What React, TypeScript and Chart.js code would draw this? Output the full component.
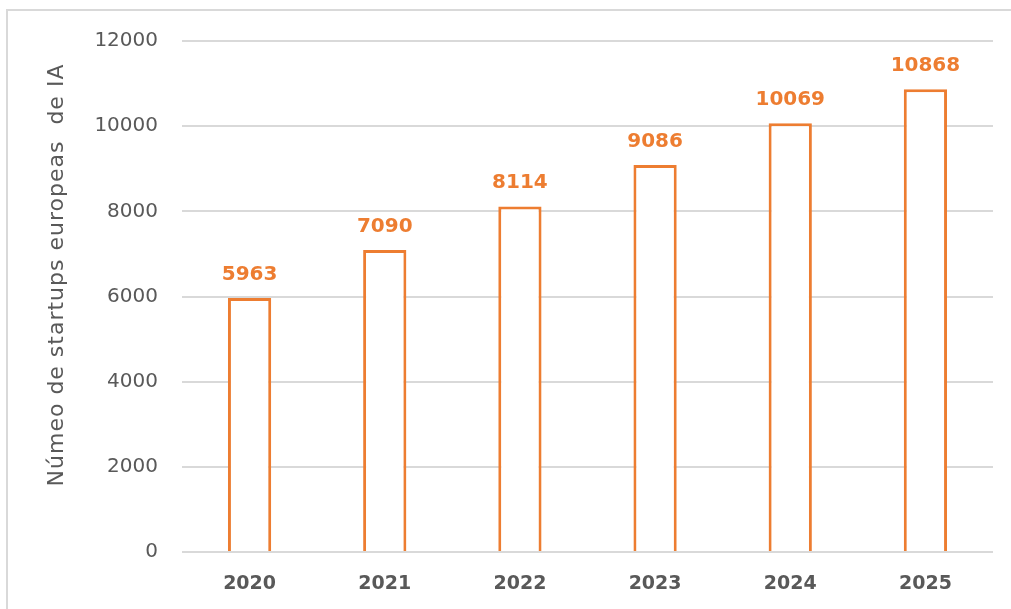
import React, { useEffect, useRef } from "react";
import { Chart, registerables } from "chart.js";

Chart.register(...registerables);

const categories = ["2020", "2021", "2022", "2023", "2024", "2025"];
const startups = [5963, 7090, 8114, 9086, 10069, 10868];
const yTicks = [0, 2000, 4000, 6000, 8000, 10000, 12000];
const yTitle = "Númeo de startups europeas  de IA";

const ORANGE = "#ED7D31";
const GREY_TEXT = "#595959";
const GRID = "#d9d9d9";

const framePlugin = {
  id: "frame",
  beforeDraw(chart: any) {
    const ctx = chart.ctx;
    ctx.save();
    ctx.fillStyle = "#ffffff";
    ctx.fillRect(0, 0, chart.width, chart.height);
    ctx.strokeStyle = GRID;
    ctx.lineWidth = 2;
    ctx.strokeRect(7, 10, chart.width + 50, chart.height + 50);
    ctx.restore();
  },
};

const labelPlugin = {
  id: "valueLabels",
  afterDatasetsDraw(chart: any) {
    const ctx = chart.ctx;
    const meta = chart.getDatasetMeta(0);
    ctx.save();
    ctx.fillStyle = ORANGE;
    ctx.font = "bold 20px 'DejaVu Sans'";
    ctx.textAlign = "center";
    ctx.textBaseline = "alphabetic";
    meta.data.forEach((bar: any, i: number) => {
      ctx.fillText(String(startups[i]), bar.x, bar.y - 18);
    });
    ctx.restore();
  },
};

const titlePlugin = {
  id: "yTitle",
  afterDraw(chart: any) {
    const ctx = chart.ctx;
    ctx.save();
    ctx.fillStyle = GREY_TEXT;
    ctx.font = "22px 'DejaVu Sans'";
    (ctx as any).letterSpacing = "1px";
    ctx.textAlign = "center";
    ctx.textBaseline = "middle";
    ctx.translate(57, 275);
    ctx.rotate(-Math.PI / 2);
    ctx.fillText(yTitle, 0, 0);
    ctx.restore();
  },
};

export default function App() {
  const ref = useRef<HTMLCanvasElement | null>(null);

  useEffect(() => {
    if (!ref.current) return;
    const chart = new Chart(ref.current, {
      type: "bar",
      data: {
        labels: categories,
        datasets: [
          {
            data: startups,
            backgroundColor: "#ffffff",
            borderColor: ORANGE,
            borderWidth: 3,
            categoryPercentage: 1,
            barPercentage: 0.32,
          },
        ],
      },
      options: {
        responsive: false,
        animation: false,
        layout: { padding: { top: 41, right: 18, left: 0, bottom: 0 } },
        plugins: {
          legend: { display: false },
          tooltip: { enabled: false },
        },
        scales: {
          x: {
            grid: { display: false, drawTicks: false },
            border: { display: false },
            ticks: {
              color: GREY_TEXT,
              font: { family: "'DejaVu Sans'", weight: "bold", size: 19 },
              padding: 21,
            },
            afterFit(scale: any) {
              scale.height = 57;
            },
          },
          y: {
            min: 0,
            max: 12000,
            afterBuildTicks(scale: any) {
              scale.ticks = yTicks.map((v) => ({ value: v }));
            },
            grid: { color: GRID, lineWidth: 2, drawTicks: false },
            border: { display: false },
            ticks: {
              color: GREY_TEXT,
              font: { family: "'DejaVu Sans'", size: 20 },
              padding: 24,
              callback: (v: any) => String(v),
            },
            afterFit(scale: any) {
              scale.width = 182;
            },
          },
        },
      },
      plugins: [framePlugin, labelPlugin, titlePlugin],
    });
    return () => chart.destroy();
  }, []);

  return (
    <div style={{ position: "absolute", left: 0, top: 0, width: 1011, height: 609, overflow: "hidden" }}>
      <canvas ref={ref} width={1011} height={609} style={{ display: "block" }} />
    </div>
  );
}
